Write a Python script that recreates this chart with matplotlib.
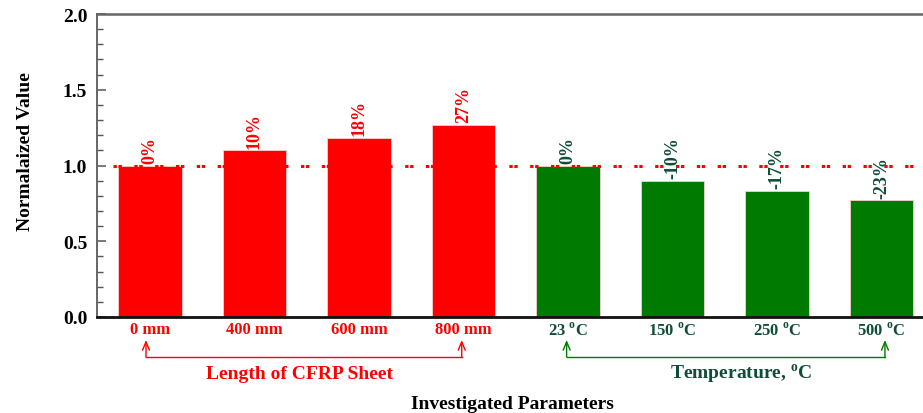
import matplotlib
matplotlib.use("Agg")
import matplotlib.pyplot as plt
from matplotlib.ticker import MultipleLocator, FormatStrFormatter

plt.rcParams['font.family'] = ['Liberation Serif', 'DejaVu Serif']
plt.rcParams['font.weight'] = 'bold'
plt.rcParams['mathtext.fontset'] = 'custom'
plt.rcParams['mathtext.rm'] = 'Liberation Serif:bold'
plt.rcParams['mathtext.bf'] = 'Liberation Serif:bold'
plt.rcParams['lines.scale_dashes'] = False

# Normalized values for each investigated parameter
length_labels = ["0 mm", "400 mm", "600 mm", "800 mm"]
length_values = [1.00, 1.10, 1.18, 1.27]
temp_labels = [r"23 $^{\rm o}$C", r"150 $^{\rm o}$C", r"250 $^{\rm o}$C", r"500 $^{\rm o}$C"]
temp_values = [1.00, 0.90, 0.83, 0.77]
reference_value = 1.0

RED = "#ff0000"
GREEN_BAR = "#007a00"
GREEN_TEXT = "#0f4d38"
GREEN_LINE = "#007a00"

fig = plt.figure(figsize=(9.23, 4.14), dpi=100)
ax = fig.add_axes([97 / 923, 96 / 414, 838 / 923, 303 / 414])

labels = length_labels + temp_labels
values = length_values + temp_values
colors = [RED] * len(length_values) + [GREEN_BAR] * len(temp_values)
text_colors = [RED] * len(length_values) + [GREEN_TEXT] * len(temp_values)
x = list(range(len(values)))

ax.bar(x, values, width=0.61, color=colors, edgecolor="#f4d0d0", linewidth=0.6, zorder=2)

# percentage change relative to the reference condition
for xi, v, c in zip(x, values, text_colors):
    pct = round((v - reference_value) * 100)
    ax.annotate(f"{pct}%", (xi, v), xytext=(0, 2.0), textcoords="offset points",
                rotation=90, ha="center", va="bottom", color=c,
                fontsize=13, fontweight="bold")

x_left, x_right = -0.507, 7.512
ax.plot([-0.354, x_right], [reference_value, reference_value], color=RED, lw=2.2,
        dashes=[2.4, 1.2, 2.4, 9.0], zorder=3, solid_capstyle="butt",
        dash_capstyle="butt")

ax.set_xlim(x_left, x_right)
ax.set_ylim(0, 2.0)
ax.set_xticks(x)
ax.set_xticklabels(labels, fontsize=12, fontweight="bold")
for lbl, c in zip(ax.get_xticklabels(), text_colors):
    lbl.set_color(c)
ax.tick_params(axis="x", length=0, pad=3)

ax.yaxis.set_major_locator(MultipleLocator(0.5))
ax.yaxis.set_minor_locator(MultipleLocator(0.1))
ax.yaxis.set_major_formatter(FormatStrFormatter("%.1f"))
ax.tick_params(axis="y", which="major", direction="in", length=6.5, width=1.1,
               color="#555555", labelsize=14, pad=7)
ax.tick_params(axis="y", which="minor", direction="in", length=4.3, width=1.0,
               color="#555555")
for t in ax.get_yticklabels():
    t.set_fontweight("bold")

ax.spines["left"].set_color("#666666")
ax.spines["left"].set_linewidth(1.4)
ax.spines["top"].set_color("#666666")
ax.spines["top"].set_linewidth(1.8)
ax.spines["bottom"].set_color("#111111")
ax.spines["bottom"].set_linewidth(2.0)
ax.spines["right"].set_visible(False)

ax.set_ylabel("Normalaized Value", fontsize=14, fontweight="bold")
ax.yaxis.set_label_coords(-0.0755, 0.548)

# group brackets beneath the category labels
trans = ax.get_xaxis_transform()
y_bracket = -0.132
y_tip = -0.076
groups = [
    (-0.038, 2.983, 1.435, RED, RED, "Length of CFRP Sheet"),
    (3.987, 7.033, 5.656, GREEN_LINE, GREEN_TEXT, r"Temperature, $^{\rm o}$C"),
]
for xa0, xa1, xt, lc, tc, title in groups:
    ax.plot([xa0, xa1], [y_bracket, y_bracket], color=lc, lw=1.0,
            transform=trans, clip_on=False)
    for xa in (xa0, xa1):
        ax.annotate("", xy=(xa, y_tip), xytext=(xa, y_bracket),
                    xycoords=trans, textcoords=trans,
                    arrowprops=dict(arrowstyle="->,head_length=0.6,head_width=0.25",
                                    color=lc, lw=1.0, shrinkA=0, shrinkB=0),
                    annotation_clip=False)
    ax.text(xt, -0.185, title, transform=trans, ha="center",
            va="center", color=tc, fontsize=14, fontweight="bold")

fig.text(512 / 923, 9 / 414, "Investigated Parameters", ha="center", va="center",
         fontsize=14, fontweight="bold", color="black")

fig.savefig("out.png", dpi=100)
